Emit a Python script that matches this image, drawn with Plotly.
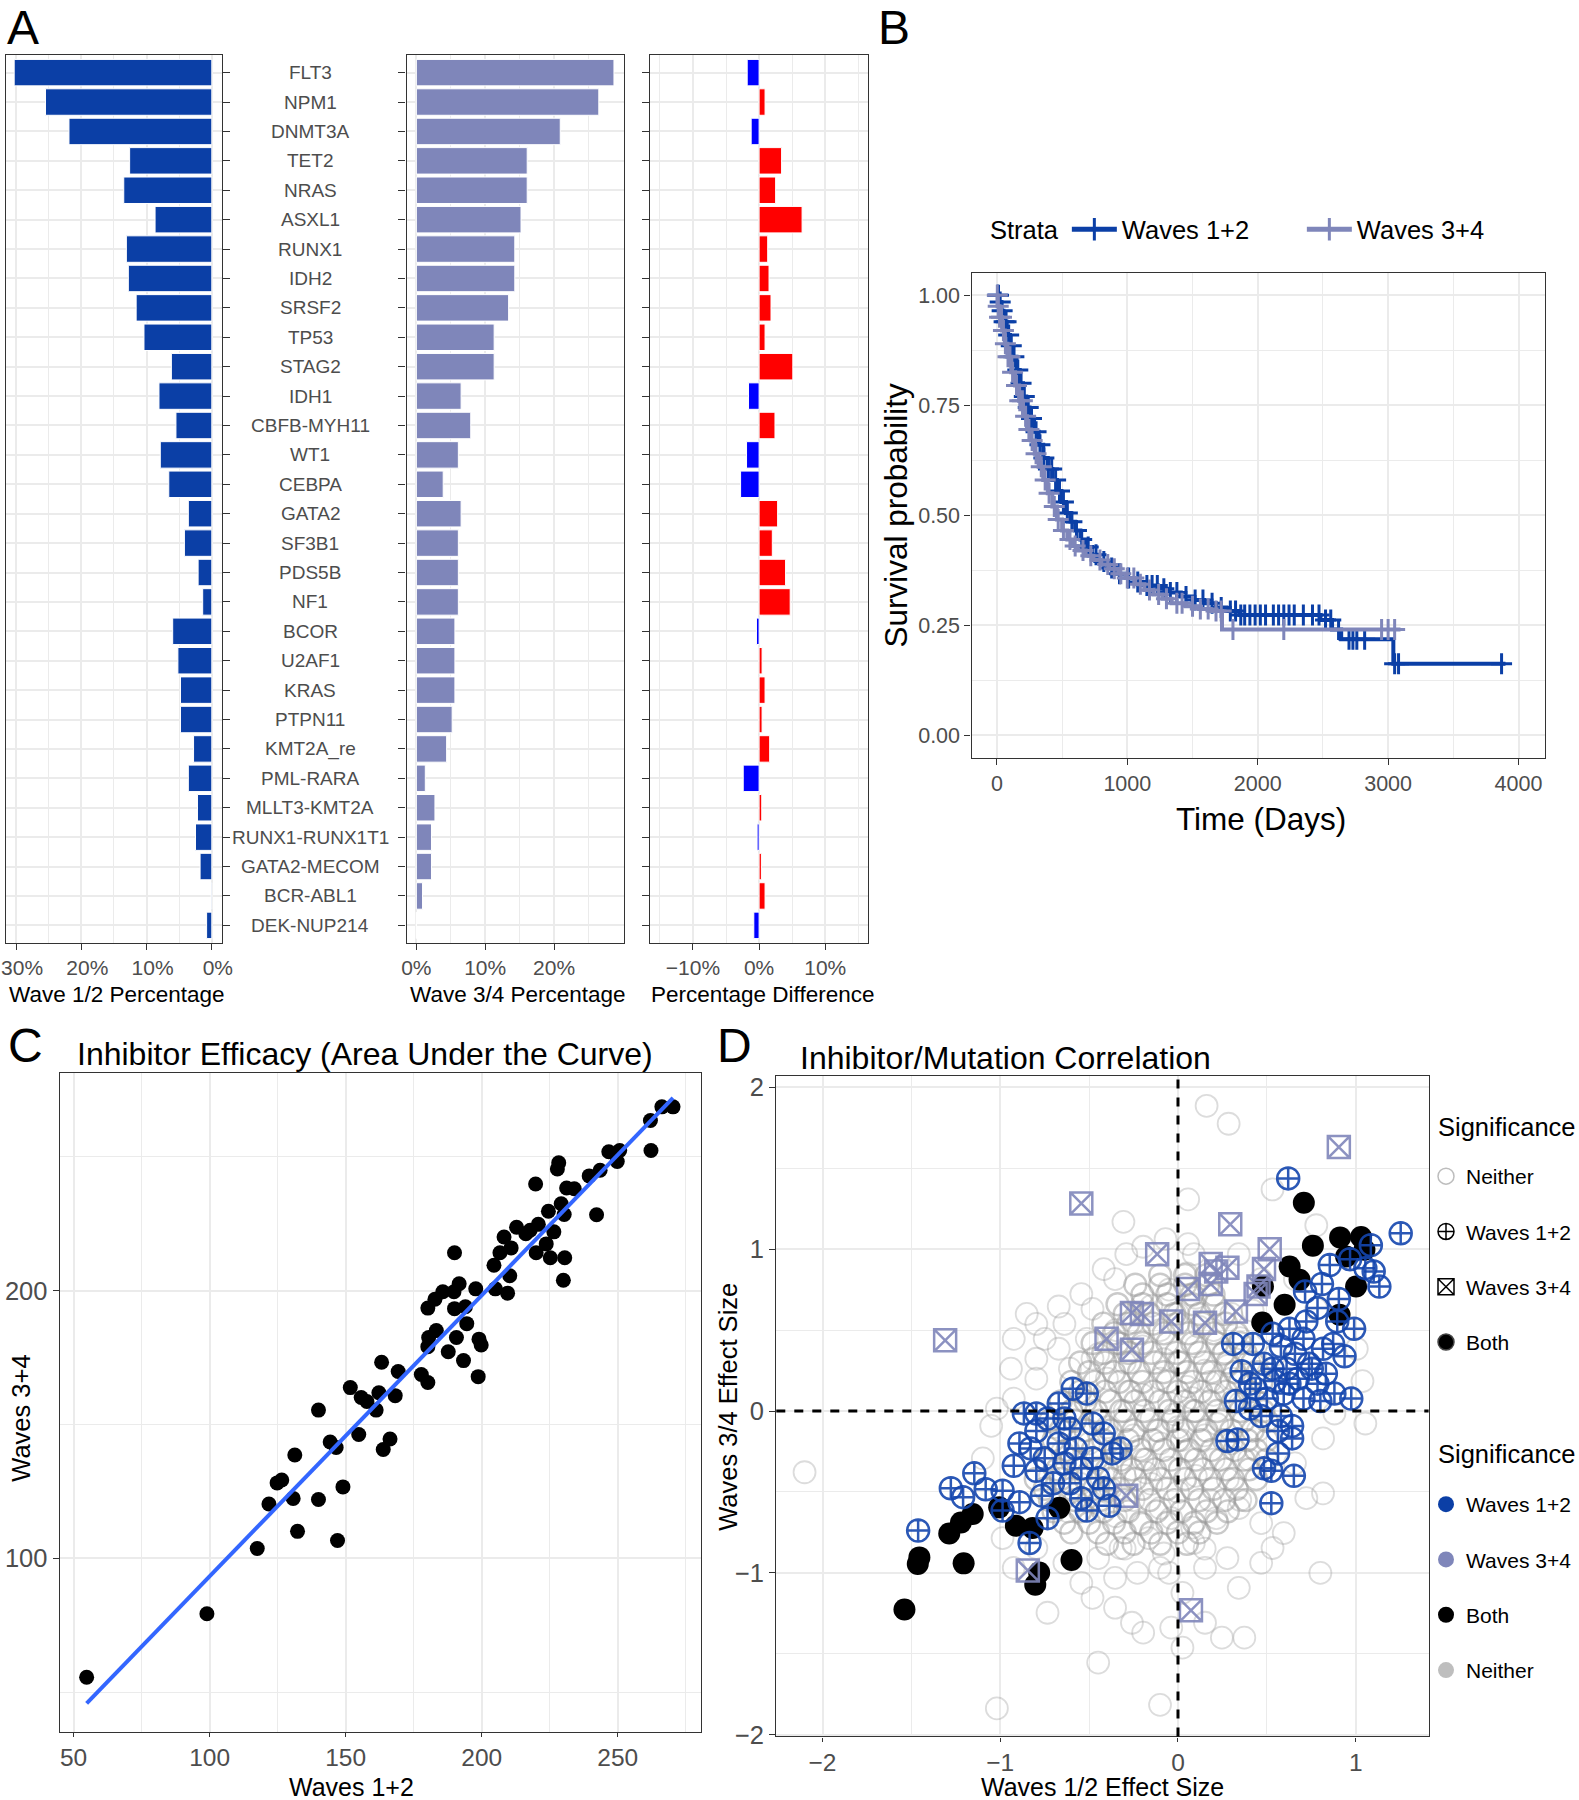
import numpy as np
import plotly.graph_objects as go

W, H = 1579, 1800
FONT = "Liberation Sans"
GRID = "#EBEBEB"
FRAME = "#333333"
TICKC = "#4D4D4D"

DARK_BLUE = "#0B3FA6"
LAVENDER = "#7F86BA"

# ---- panel A: mutation frequencies ----
genes = ["FLT3", "NPM1", "DNMT3A", "TET2", "NRAS", "ASXL1", "RUNX1", "IDH2", "SRSF2", "TP53",
         "STAG2", "IDH1", "CBFB-MYH11", "WT1", "CEBPA", "GATA2", "SF3B1", "PDS5B", "NF1", "BCOR",
         "U2AF1", "KRAS", "PTPN11", "KMT2A_re", "PML-RARA", "MLLT3-KMT2A", "RUNX1-RUNX1T1",
         "GATA2-MECOM", "BCR-ABL1", "DEK-NUP214"]
wave12_pct = [30.3, 25.5, 21.9, 12.6, 13.5, 8.7, 13.1, 12.8, 11.6, 10.4,
              6.2, 8.1, 5.5, 7.9, 6.6, 3.6, 4.2, 2.1, 1.4, 6.0,
              5.2, 4.8, 4.8, 2.8, 3.6, 2.2, 2.5, 1.8, 0.1, 0.8]
wave34_pct = [28.7, 26.5, 20.9, 16.1, 16.1, 15.2, 14.3, 14.3, 13.4, 11.3,
              11.3, 6.5, 7.9, 6.1, 3.9, 6.5, 6.1, 6.1, 6.1, 5.6,
              5.6, 5.6, 5.2, 4.4, 1.3, 2.7, 2.2, 2.2, 0.9, 0.0]
pct_diff = [-1.8, 0.9, -1.2, 3.4, 2.5, 6.5, 1.3, 1.5, 1.8, 0.9,
            5.1, -1.6, 2.4, -1.9, -2.8, 2.8, 2.0, 4.0, 4.7, -0.4,
            0.45, 0.9, 0.45, 1.6, -2.4, 0.4, -0.3, 0.35, 0.9, -0.8]
a1_ticks = [0, 10, 20, 30]
a2_ticks = [0, 10, 20]
a3_ticks = [-10, 0, 10]

# ---- panel B: survival (Kaplan-Meier steps) ----
km12_t = [0, 15, 30, 50, 75, 100, 125, 150, 175, 200, 225, 250, 285, 320, 355, 390, 425, 460, 495,
          530, 565, 600, 640, 680, 730, 780, 850, 920, 990, 1060, 1150, 1235, 1320, 1410, 1500,
          1590, 1680, 1760, 1860, 2480, 2570, 2640, 3040, 3900]
km12_s = [1.0, 0.985, 0.965, 0.94, 0.91, 0.885, 0.86, 0.83, 0.80, 0.77, 0.745, 0.72, 0.69, 0.66,
          0.63, 0.605, 0.58, 0.555, 0.53, 0.505, 0.485, 0.465, 0.445, 0.428, 0.41, 0.395, 0.38,
          0.367, 0.357, 0.348, 0.34, 0.333, 0.324, 0.315, 0.307, 0.30, 0.29, 0.282, 0.273, 0.262,
          0.24, 0.218, 0.162, 0.162]
km34_t = [0, 5, 20, 40, 60, 80, 110, 140, 170, 200, 230, 260, 290, 320, 355, 390, 425, 460, 500,
          540, 580, 620, 680, 740, 800, 860, 930, 990, 1060, 1130, 1200, 1270, 1340, 1450, 1550,
          1640, 1726, 3095]
km34_s = [1.0, 0.975, 0.95, 0.92, 0.89, 0.86, 0.825, 0.795, 0.76, 0.725, 0.695, 0.67, 0.64, 0.61,
          0.58, 0.55, 0.52, 0.49, 0.465, 0.445, 0.43, 0.42, 0.408, 0.398, 0.388, 0.378, 0.367,
          0.357, 0.343, 0.33, 0.32, 0.31, 0.30, 0.293, 0.287, 0.282, 0.24, 0.24]
cens12_t = [5, 12, 25, 40, 55, 70, 90, 110, 130, 160, 185, 210, 240, 265, 300, 330, 360, 395, 420,
            450, 480, 510, 540, 575, 610, 650, 700, 760, 820, 880, 940, 1010, 1080, 1150, 1190,
            1230, 1280, 1330, 1380, 1450, 1520, 1580, 1650, 1720, 1790, 1830, 1870, 1900, 1940,
            1980, 2020, 2060, 2120, 2160, 2200, 2240, 2280, 2350, 2420, 2470, 2520, 2560, 2620,
            2700, 2730, 2760, 2820, 3050, 3080, 3870]
cens34_t = [3, 10, 20, 35, 50, 65, 85, 100, 120, 150, 175, 195, 220, 245, 270, 300, 340, 370, 400,
            440, 470, 510, 560, 600, 660, 720, 790, 850, 900, 950, 1000, 1050, 1100, 1170, 1240,
            1300, 1380, 1420, 1500, 1560, 1620, 1680, 1720, 1810, 2200, 2950, 3000, 3050]

# ---- panel C: inhibitor AUC ----
auc_w12 = [54.8, 99.0, 117.5, 121.8, 130.7, 132.3, 124.8, 126.5, 131.3, 140.0, 140.0, 147.0, 149.0,
           144.3, 146.5, 151.7, 154.8, 155.7, 157.8, 161.2, 162.2, 163.2, 163.8, 166.3, 168.2,
           169.3, 177.8, 180.2, 180.2, 180.5, 180.2, 183.3, 182.8, 185.7, 187.7, 190.0, 189.8,
           190.0, 190.7, 191.7, 193.3, 194.5, 194.0, 197.8, 198.7, 199.0, 199.8, 204.5, 205.0,
           206.7, 208.2, 209.5, 210.3, 210.8, 212.8, 216.2, 217.8, 219.8, 220.0, 220.8, 223.7,
           224.5, 225.2, 226.5, 227.8, 228.3, 229.2, 230.3, 230.5, 230.0, 231.2, 234.0, 239.5,
           242.2, 243.5, 246.7, 249.8, 250.7, 262.0, 262.2, 266.2, 270.3]
auc_w34 = [55.6, 79.3, 103.7, 120.3, 122.4, 110.1, 128.2, 129.3, 138.6, 122.0, 155.4, 106.7, 126.7,
           143.5, 141.4, 163.8, 146.3, 160.1, 158.6, 155.4, 161.9, 173.3, 140.7, 144.6, 160.8,
           169.8, 168.7, 165.7, 179.1, 182.5, 193.5, 185.1, 196.8, 199.6, 177.2, 214.2, 199.6,
           193.3, 182.5, 202.6, 173.9, 187.7, 194.0, 200.7, 167.9, 181.9, 179.7, 209.5, 200.7,
           214.2, 220.1, 199.1, 205.6, 216.0, 223.7, 221.3, 222.6, 239.9, 214.2, 224.8, 217.5,
           229.7, 212.3, 222.0, 245.5, 247.8, 232.5, 228.5, 212.3, 203.9, 238.4, 238.1, 242.9,
           228.4, 245.0, 251.9, 248.3, 252.4, 263.6, 252.4, 268.7, 268.7]

# ---- panel D: effect sizes ----
both_x = [0.708, 0.759, 0.912, 1.030, 1.049, 1.002, 0.628, 0.684, 0.478, 0.600, 0.474, 0.909, 0.946,
          -1.539, -1.464, -1.455, -1.287, -1.221, -1.155, -1.206, -1.006, -0.912, -0.818, -0.781,
          -0.803, -0.668, -0.599]
both_y = [1.287, 1.022, 1.073, 1.075, 0.997, 0.770, 0.893, 0.811, 0.770, 0.657, 0.547, 0.595, 0.955,
          -1.226, -0.945, -0.904, -0.756, -0.688, -0.636, -0.941, -0.595, -0.708, -0.722, -0.997,
          -1.073, -0.598, -0.920]
w12_x = [0.620, 1.253, 1.085, 0.968, 0.854, 1.054, 1.133, 1.101, 0.810, 0.715, 0.905, 0.785, 0.991,
         0.896, 0.722, 0.627, 0.532, 0.421, 0.310, 0.579, 0.706, 0.816, 0.937, 0.873, 0.358, 0.484,
         0.611, 0.737, 0.674, 0.547, 0.405, 0.785, 0.880, 0.975, 0.801, 0.706, 0.595, 0.500, 0.326,
         0.405, 0.579, 0.642, 0.563, 0.642, 0.278, 0.335, 0.484, 0.525, 0.652, 0.525, 0.563, 0.468,
         0.437, 0.658, 0.753, 0.832, 0.627, 0.532,
         -0.867, -0.592, -0.671, -0.513, -0.734, -0.797, -0.892, -0.829, -0.924, -0.797, -0.750,
         -0.671, -0.608, -0.481, -0.418, -0.370, -0.481, -0.576, -0.639, -0.703, -0.766, -0.608,
         -0.544, -0.418, -0.513, -0.386, -1.146, -1.278, -1.209, -1.082, -0.987, -0.892, -0.987,
         -1.462, -0.835, -0.734, -0.544, -0.449, -0.639, -0.797, -0.323]
w12_y = [1.437, 1.098, 1.025, 0.938, 0.902, 0.883, 0.769, 0.862, 0.785, 0.738, 0.692, 0.637, 0.508,
         0.554, 0.554, 0.508, 0.477, 0.415, 0.415, 0.400, 0.446, 0.385, 0.338, 0.415, 0.246, 0.292,
         0.262, 0.292, 0.200, 0.185, 0.169, 0.169, 0.108, 0.077, 0.062, 0.077, 0.108, 0.077, 0.062,
         0.015, -0.031, -0.092, -0.123, -0.169, -0.185, -0.175, -0.354, -0.369, -0.400, -0.569,
         -0.262, -0.031, 0.138, 0.354, 0.262, 0.231, 0.169, 0.262,
         -0.015, 0.138, 0.046, 0.108, -0.046, -0.123, -0.200, -0.231, -0.338, -0.369, -0.292,
         -0.200, -0.108, -0.077, -0.138, -0.262, -0.292, -0.231, -0.323, -0.446, -0.523, -0.446,
         -0.354, -0.477, -0.615, -0.585, -0.385, -0.477, -0.532, -0.483, -0.492, -0.563, -0.615,
         -0.738, -0.815, -0.662, -0.538, -0.415, -0.046, -0.015, -0.231]
w34_x = [0.905, -0.544, -1.310, 0.294, -0.117, 0.516, 0.184, 0.278, 0.484, 0.057, 0.184, -0.259,
         -0.203, -0.038, 0.152, 0.326, 0.437, -0.402, -0.259, -0.291, -0.845, 0.073, 0.215, 0.453]
w34_y = [1.631, 1.283, 0.437, 1.154, 0.969, 1.000, 0.908, 0.886, 0.877, 0.754, 0.785, 0.606,
         0.600, 0.554, 0.545, 0.615, 0.723, 0.446, 0.378, -0.523, -0.985, -1.231, 0.862, 0.769]
# outer "Neither" circles
neither_x = [0.161, 0.285, 0.057, -0.307, 0.532, 0.778, -2.101, -1.019, -0.101, -0.449, 0.801, 1.054,
             0.816, -0.734, -1.051, -0.851, -0.671, -0.544, -0.481, -0.639, -0.750, -0.940, -0.797,
             -0.671, -0.418, -0.354, -0.291, -0.196, -0.070, 0.057, 0.089, 0.342, 0.468, 0.658,
             0.778, 1.006, 1.038, 0.880, 0.816, 0.658, 0.722, 0.595, 0.468, 0.342, 0.247, 0.373,
             0.152, 0.025, -0.038, -0.196, -0.259, -0.354, -0.481, -0.544, -0.639, -0.449, -0.323,
             -0.165, -0.038, 0.089, 0.215, 0.342, 0.468, 0.532, 0.278, 0.152, 0.025, -0.101, -0.228,
             -0.354, -0.987, -0.924, -0.797, -1.098, -1.019, -0.924, -0.797, -0.608, -0.481, -0.323,
             -0.513, -0.924, -0.797,
             -0.6, -0.5, -0.4, -0.3, -0.2, -0.1, 0.0, 0.1, 0.2, 0.3,
             -0.55, -0.45, -0.35, -0.25, -0.15, -0.05, 0.05, 0.15, 0.25, 0.35,
             -0.4, -0.3, -0.2, -0.1, 0.0, 0.1, 0.2, 0.3, 0.4,
             -0.35, -0.25, -0.15, -0.05, 0.05, 0.15, 0.25, 0.35,
             -0.2, -0.1, 0.0, 0.1, 0.2, 0.3,
             -0.7, -0.6, -0.5, -0.4, -0.3, -0.2, -0.1, 0.0, 0.1,
             -0.45, -0.35, -0.25, -0.15, -0.05, 0.05,
             -0.62, -0.5, -0.08, 0.08, 0.18, 0.28, 0.4, 0.45,
             -0.12, -0.02, 0.08, -0.22, 0.18, -0.32, 0.28,
             -0.08, 0.12, -0.28, -0.48, 0.02, -0.18, 0.22, -0.38,
             0.5, 0.42, 0.55, -0.65, -0.72, -0.05, 0.15, -0.3, 0.35]
neither_y = [1.886, 1.775, 1.308, 1.169, 1.369, 1.148, -0.378, -1.837, -1.815, -1.554, -1.000, -0.077,
             -0.508, -1.246, -0.092, 0.600, 0.646, 0.723, 0.631, 0.538, 0.446, 0.262, 0.323, 0.385,
             0.877, 0.815, 0.969, 1.015, 1.062, 1.031, 0.969, 0.969, 0.815, 0.815, 0.631, 0.385,
             0.185, -0.015, -0.169, -0.323, -0.538, -0.754, -0.938, -1.092, -1.400, -1.400, -1.308,
             -1.462, -1.338, -1.369, -1.308, -1.215, -1.154, -1.062, -0.938, -0.908, -0.846, -0.785,
             -0.662, -0.815, -0.662, -0.600, -0.692, -0.846, -0.908, -0.969, -1.123, -0.969, -1.000,
             -1.031, -0.785, -0.969, -0.846, -0.292, 0.015, 0.077, 0.200, 0.262, 0.323, 0.415,
             0.446, 0.446, 0.538,
             -0.3, -0.2, -0.1, 0.0, 0.1, 0.2, 0.3, 0.4, 0.5, 0.6,
             -0.45, -0.35, -0.25, -0.15, -0.05, 0.05, 0.15, 0.25, 0.35, 0.45,
             -0.5, -0.4, -0.3, -0.2, -0.1, 0.0, 0.1, 0.2, 0.3,
             -0.65, -0.55, -0.45, -0.35, -0.25, -0.15, -0.05, 0.05,
             -0.7, -0.6, -0.5, -0.4, -0.3, -0.2,
             -0.1, 0.0, 0.1, 0.2, 0.3, 0.4, 0.5, 0.6, 0.7,
             0.35, 0.5, 0.55, 0.65, 0.75, 0.85,
             -0.62, -0.55, -0.88, -0.72, -0.55, -0.42, -0.3, -0.12,
             -0.12, -0.02, 0.08, -0.22, 0.18, -0.32, 0.28,
             0.32, 0.52, 0.12, -0.08, -0.18, -0.38, -0.08, -0.48,
             0.5, 0.62, 0.35, -0.25, -0.4, -1.0, -0.85, -0.85, -0.55]
# dense core of the "Neither" cloud
core_x = [-0.6, -0.45, -0.3, -0.15, 0.0, 0.12,
          -0.7, -0.55, -0.42, -0.28, -0.12, 0.02, 0.16, 0.28,
          -0.75, -0.6, -0.47, -0.33, -0.2, -0.06, 0.08, 0.2, 0.33,
          -0.68, -0.54, -0.4, -0.26, -0.13, 0.01, 0.14, 0.27, 0.4,
          -0.62, -0.48, -0.35, -0.21, -0.08, 0.06, 0.19, 0.32, 0.44,
          -0.66, -0.52, -0.38, -0.25, -0.11, 0.03, 0.16, 0.3, 0.42,
          -0.6, -0.46, -0.32, -0.19, -0.05, 0.09, 0.22, 0.35, 0.48,
          -0.55, -0.41, -0.27, -0.14, 0.0, 0.13, 0.27, 0.4,
          -0.5, -0.36, -0.22, -0.08, 0.05, 0.19, 0.32, 0.45,
          -0.42, -0.28, -0.15, -0.01, 0.12, 0.26, 0.38,
          -0.36, -0.22, -0.08, 0.06, 0.2, 0.33,
          -0.3, -0.16, -0.02, 0.12, 0.26,
          -0.2, -0.06, 0.08, 0.2,
          -0.1, 0.04, 0.16,
          -0.4, -0.25, -0.1, 0.05,
          -0.64, -0.5, -0.36, -0.21, -0.06, 0.09, 0.22,
          -0.72, -0.58, -0.44, -0.3, -0.16, -0.02, 0.12, 0.26, 0.38,
          -0.8, -0.66, -0.52, -0.38, -0.24, -0.1, 0.04, 0.18, 0.31, 0.44,
          -0.74, -0.6, -0.46, -0.32, -0.18, -0.04, 0.1, 0.24, 0.37, 0.5,
          -0.7, -0.56, -0.42, -0.28, -0.14, 0.0, 0.13, 0.26, 0.39, 0.5,
          -0.72, -0.58, -0.44, -0.3, -0.17, -0.03, 0.11, 0.24, 0.37, 0.5,
          -0.66, -0.52, -0.38, -0.24, -0.1, 0.04, 0.18, 0.31, 0.44,
          -0.6, -0.47, -0.33, -0.2, -0.06, 0.08, 0.22, 0.35, 0.47,
          -0.55, -0.41, -0.27, -0.13, 0.01, 0.15, 0.28, 0.42,
          -0.48, -0.34, -0.2, -0.06, 0.08, 0.22, 0.35,
          -0.42, -0.28, -0.14, 0.0, 0.14, 0.27,
          -0.34, -0.2, -0.06, 0.08, 0.21,
          -0.24, -0.1, 0.04, 0.17]
core_y = [-0.75, -0.75, -0.75, -0.75, -0.75, -0.75,
          -0.62, -0.62, -0.62, -0.62, -0.62, -0.62, -0.62, -0.62,
          -0.48, -0.48, -0.48, -0.48, -0.48, -0.48, -0.48, -0.48, -0.48,
          -0.36, -0.36, -0.36, -0.36, -0.36, -0.36, -0.36, -0.36, -0.36,
          -0.24, -0.24, -0.24, -0.24, -0.24, -0.24, -0.24, -0.24, -0.24,
          -0.12, -0.12, -0.12, -0.12, -0.12, -0.12, -0.12, -0.12, -0.12,
          0.0, 0.0, 0.0, 0.0, 0.0, 0.0, 0.0, 0.0, 0.0,
          0.12, 0.12, 0.12, 0.12, 0.12, 0.12, 0.12, 0.12,
          0.24, 0.24, 0.24, 0.24, 0.24, 0.24, 0.24, 0.24,
          0.36, 0.36, 0.36, 0.36, 0.36, 0.36, 0.36,
          0.48, 0.48, 0.48, 0.48, 0.48, 0.48,
          0.6, 0.6, 0.6, 0.6, 0.6,
          0.72, 0.72, 0.72, 0.72,
          0.84, 0.84, 0.84,
          -0.82, -0.82, -0.82, -0.82,
          -0.69, -0.69, -0.69, -0.69, -0.69, -0.69, -0.69,
          -0.55, -0.55, -0.55, -0.55, -0.55, -0.55, -0.55, -0.55, -0.55,
          -0.42, -0.42, -0.42, -0.42, -0.42, -0.42, -0.42, -0.42, -0.42, -0.42,
          -0.3, -0.3, -0.3, -0.3, -0.3, -0.3, -0.3, -0.3, -0.3, -0.3,
          -0.18, -0.18, -0.18, -0.18, -0.18, -0.18, -0.18, -0.18, -0.18, -0.18,
          -0.06, -0.06, -0.06, -0.06, -0.06, -0.06, -0.06, -0.06, -0.06, -0.06,
          0.06, 0.06, 0.06, 0.06, 0.06, 0.06, 0.06, 0.06, 0.06,
          0.18, 0.18, 0.18, 0.18, 0.18, 0.18, 0.18, 0.18, 0.18,
          0.3, 0.3, 0.3, 0.3, 0.3, 0.3, 0.3, 0.3,
          0.42, 0.42, 0.42, 0.42, 0.42, 0.42, 0.42,
          0.54, 0.54, 0.54, 0.54, 0.54, 0.54,
          0.66, 0.66, 0.66, 0.66, 0.66,
          0.78, 0.78, 0.78, 0.78]


def px(x):
    return x / W


def py(y):
    return 1 - y / H


def step_at(times, surv, t):
    idx = np.searchsorted(times, t, side="right") - 1
    return surv[idx]


fig = go.Figure()

# panel A bars
fig.add_trace(go.Bar(y=genes, x=wave12_pct, orientation="h", width=0.9,
                     marker=dict(color=DARK_BLUE, line=dict(color="white", width=1)),
                     xaxis="x", yaxis="y", showlegend=False))
fig.add_trace(go.Bar(y=genes, x=wave34_pct, orientation="h", width=0.9,
                     marker=dict(color=LAVENDER, line=dict(color="white", width=1)),
                     xaxis="x2", yaxis="y2", showlegend=False))
diff_colors = ["#FF0000" if d > 0 else "#0000FF" for d in pct_diff]
fig.add_trace(go.Bar(y=genes, x=pct_diff, orientation="h", width=0.9,
                     marker=dict(color=diff_colors, line=dict(color="white", width=1)),
                     xaxis="x3", yaxis="y3", showlegend=False))

# panel B survival curves
for t, s, ct, col, name in [(km12_t, km12_s, cens12_t, DARK_BLUE, "Waves 1+2"),
                            (km34_t, km34_s, cens34_t, LAVENDER, "Waves 3+4")]:
    fig.add_trace(go.Scatter(x=t, y=s, mode="lines", line=dict(color=col, width=4, shape="hv"),
                             xaxis="x4", yaxis="y4", showlegend=False))
    cy = [step_at(np.array(t), np.array(s), v) for v in ct]
    fig.add_trace(go.Scatter(x=ct, y=cy, mode="markers",
                             marker=dict(symbol="cross-thin", size=15, line=dict(color=col, width=3)),
                             xaxis="x4", yaxis="y4", showlegend=False))
    fig.add_trace(go.Scatter(x=[None], y=[None], mode="lines+markers", name=name,
                             line=dict(color=col, width=5),
                             marker=dict(symbol="cross-thin", size=16, line=dict(color=col, width=3)),
                             xaxis="x4", yaxis="y4", legend="legend"))

# panel C scatter + lm line
fig.add_trace(go.Scatter(x=auc_w12, y=auc_w34, mode="markers",
                         marker=dict(color="black", size=15), xaxis="x5", yaxis="y5", showlegend=False))
slope, icpt = np.polyfit(auc_w12, auc_w34, 1)
lx = np.array([min(auc_w12), max(auc_w12)])
fig.add_trace(go.Scatter(x=lx, y=slope * lx + icpt, mode="lines", line=dict(color="#3366FF", width=4),
                         xaxis="x5", yaxis="y5", showlegend=False))

# panel D scatter
fig.add_trace(go.Scatter(x=neither_x, y=neither_y, mode="markers",
                         marker=dict(symbol="circle-open", size=22, color="rgba(150,150,150,0.33)",
                                     line=dict(width=1.8)),
                         xaxis="x6", yaxis="y6", showlegend=False))
fig.add_trace(go.Scatter(x=core_x, y=core_y, mode="markers",
                         marker=dict(symbol="circle-open", size=22, color="rgba(150,150,150,0.5)",
                                     line=dict(width=2.4)),
                         xaxis="x6", yaxis="y6", showlegend=False))
fig.add_trace(go.Scatter(x=both_x, y=both_y, mode="markers",
                         marker=dict(symbol="circle", size=22, color="black"),
                         xaxis="x6", yaxis="y6", showlegend=False))
fig.add_trace(go.Scatter(x=w34_x, y=w34_y, mode="markers",
                         marker=dict(symbol="square-x-open", size=22, color="rgba(127,134,186,0.9)",
                                     line=dict(width=2.5)),
                         xaxis="x6", yaxis="y6", showlegend=False))
fig.add_trace(go.Scatter(x=w12_x, y=w12_y, mode="markers",
                         marker=dict(symbol="circle-cross-open", size=22, color="rgba(20,70,174,0.9)",
                                     line=dict(width=2.5)),
                         xaxis="x6", yaxis="y6", showlegend=False))

# legend entries for panel D
shape_items = [("Neither", "circle-open", "#BDBDBD"), ("Waves 1+2", "circle-cross-open", "black"),
               ("Waves 3+4", "square-x-open", "black"), ("Both", "circle", "black")]
for i, (nm, sym, col) in enumerate(shape_items):
    fig.add_trace(go.Scatter(x=[None], y=[None], mode="markers", name=nm, legend="legend2",
                             legendgroup="s%d" % i,
                             marker=dict(symbol=sym, size=16, color=col, line=dict(width=1.5)),
                             xaxis="x6", yaxis="y6"))
color_items = [("Waves 1+2", DARK_BLUE), ("Waves 3+4", LAVENDER), ("Both", "black"),
               ("Neither", "#BEBEBE")]
for i, (nm, col) in enumerate(color_items):
    fig.add_trace(go.Scatter(x=[None], y=[None], mode="markers", name=nm, legend="legend3",
                             legendgroup="c%d" % i,
                             marker=dict(symbol="circle", size=16, color=col),
                             xaxis="x6", yaxis="y6"))


def frame_axis(**kw):
    d = dict(showline=True, mirror=True, linecolor=FRAME, linewidth=1.3, zeroline=False,
             showgrid=True, gridcolor=GRID, gridwidth=2, ticks="outside", ticklen=6,
             tickcolor=FRAME, tickwidth=1.3, automargin=False, ticklabeloverflow="allow",
             tickfont=dict(family=FONT, size=21, color=TICKC))
    d.update(kw)
    return d


def minor(vals):
    return dict(tickvals=vals, showgrid=True, gridcolor=GRID, gridwidth=1, ticks="")


def pct_text(vals):
    return [("\u2212%d%%" % -v) if v < 0 else ("%d%%" % v) for v in vals]


ydom_a = [py(943), py(55)]
cat_range = [len(genes) - 0.4, -0.6]
ycat = dict(type="category", categoryorder="array", categoryarray=genes, range=cat_range,
            showticklabels=False)
big_tick = dict(family=FONT, size=25.5, color=TICKC)
bottom_tick = dict(family=FONT, size=24.5, color=TICKC)

layout = dict(
    width=W, height=H, margin=dict(l=0, r=0, t=0, b=0, autoexpand=False),
    plot_bgcolor="white", paper_bgcolor="white", bargap=0.1,
    font=dict(family=FONT, color="black"),
    xaxis=frame_axis(domain=[px(5.7), px(221.6)], range=[31.6, -1.5], tickvals=a1_ticks,
                     ticktext=pct_text(a1_ticks), minor=minor([5, 15, 25]), anchor="y",
                     ticklabelshift=-6),
    yaxis=frame_axis(domain=ydom_a, side="right", anchor="x", ticklen=7, **ycat),
    xaxis2=frame_axis(domain=[px(406.5), px(623.6)], range=[-1.43, 30.1], tickvals=a2_ticks,
                      ticktext=pct_text(a2_ticks), minor=minor([5, 15, 25]), anchor="y2"),
    yaxis2=frame_axis(domain=ydom_a, anchor="x2", ticklen=7, **ycat),
    xaxis3=frame_axis(domain=[px(650), px(868.2)], range=[-16.5, 16.5], tickvals=a3_ticks,
                      ticktext=pct_text(a3_ticks), minor=minor([-15, -5, 5, 15]), anchor="y3"),
    yaxis3=frame_axis(domain=ydom_a, anchor="x3", ticklen=7, **ycat),
    xaxis4=frame_axis(domain=[px(971.5), px(1544.6)], range=[-195, 4200],
                      tickvals=[0, 1000, 2000, 3000, 4000], minor=minor([500, 1500, 2500, 3500]),
                      anchor="y4", tickfont=dict(family=FONT, size=21.5, color=TICKC)),
    yaxis4=frame_axis(domain=[py(758), py(273.3)], range=[-0.052, 1.05],
                      tickvals=[0, 0.25, 0.5, 0.75, 1.0], tickformat=".2f",
                      minor=minor([0.125, 0.375, 0.625, 0.875]), anchor="x4",
                      tickfont=dict(family=FONT, size=21.5, color=TICKC)),
    xaxis5=frame_axis(domain=[px(59.7), px(700.5)], range=[44.9, 280.4],
                      tickvals=[50, 100, 150, 200, 250], minor=minor([75, 125, 175, 225, 275]),
                      anchor="y5", ticklen=4, tickfont=bottom_tick),
    yaxis5=frame_axis(domain=[py(1731.8), py(1072.6)], range=[35.2, 281.5], tickvals=[100, 200],
                      minor=minor([50, 150, 250]), anchor="x5", tickfont=big_tick),
    xaxis6=frame_axis(domain=[px(776.3), px(1428.6)], range=[-2.26, 1.41], tickvals=[-2, -1, 0, 1],
                      minor=minor([-1.5, -0.5, 0.5]), anchor="y6", ticklen=4, tickfont=bottom_tick),
    yaxis6=frame_axis(domain=[py(1736.4), py(1076)], range=[-2.01, 2.07],
                      tickvals=[-2, -1, 0, 1, 2], minor=minor([-1.5, -0.5, 0.5, 1.5]), anchor="x6",
                      tickfont=big_tick),
    legend=dict(orientation="h", x=px(988), y=py(229.7), xanchor="left", yanchor="middle",
                title=dict(text="Strata", side="left", font=dict(family=FONT, size=25.5)),
                font=dict(family=FONT, size=25.5), entrywidth=175, itemwidth=45,
                bgcolor="rgba(0,0,0,0)"),
    legend2=dict(x=px(1426), y=py(1156), xanchor="left", yanchor="top", tracegroupgap=25,
                 font=dict(family=FONT, size=21), bgcolor="rgba(0,0,0,0)"),
    legend3=dict(x=px(1426), y=py(1484), xanchor="left", yanchor="top", tracegroupgap=25,
                 font=dict(family=FONT, size=21), bgcolor="rgba(0,0,0,0)"),
)
fig.update_layout(**layout)

# dashed reference lines in D
fig.add_shape(type="line", xref="x6", yref="y6 domain", x0=0, x1=0, y0=0, y1=1,
              line=dict(color="black", width=3, dash="dash"))
fig.add_shape(type="line", xref="x6 domain", yref="y6", x0=0, x1=1, y0=0, y1=0,
              line=dict(color="black", width=3, dash="dash"))

ann = []
# gene labels between A1 and A2
for g in genes:
    ann.append(dict(x=px(310), y=g, xref="paper", yref="y", text=g, showarrow=False,
                    xanchor="center", font=dict(family=FONT, size=19, color=TICKC)))


def label(text, x, y, size, xanchor="center", angle=0, color="black"):
    ann.append(dict(x=px(x), y=py(y), xref="paper", yref="paper", text=text, showarrow=False,
                    xanchor=xanchor, yanchor="middle", textangle=angle,
                    font=dict(family=FONT, size=size, color=color)))


label("A", 5, 28, 48, xanchor="left")
label("B", 876, 28, 48, xanchor="left")
label("C", 6, 1045, 48, xanchor="left")
label("D", 715, 1045, 48, xanchor="left")
label("Wave 1/2 Percentage", 117, 994.5, 22.5)
label("Wave 3/4 Percentage", 518, 994.5, 22.5)
label("Percentage Difference", 762.5, 994.5, 22.5)
label("Survival probability", 896, 515.6, 31.5, angle=-90)
label("Time (Days)", 1261, 818.8, 31.5)
label("Inhibitor Efficacy (Area Under the Curve)", 74.6, 1054, 32, xanchor="left")
label("Waves 3+4", 20.7, 1418, 25.5, angle=-90)
label("Waves 1+2", 351, 1787, 25)
label("Inhibitor/Mutation Correlation", 798, 1057.7, 32, xanchor="left")
label("Waves 3/4 Effect Size", 728, 1406.8, 25.5, angle=-90)
label("Waves 1/2 Effect Size", 1102.5, 1787, 25)
label("Significance", 1435.5, 1126.6, 25.5, xanchor="left")
label("Significance", 1435.5, 1453.9, 25.5, xanchor="left")
fig.update_layout(annotations=ann)

fig.write_html("out.html", config={"displayModeBar": False},
               post_script="document.body.style.margin='0';document.body.style.overflow='hidden';")
